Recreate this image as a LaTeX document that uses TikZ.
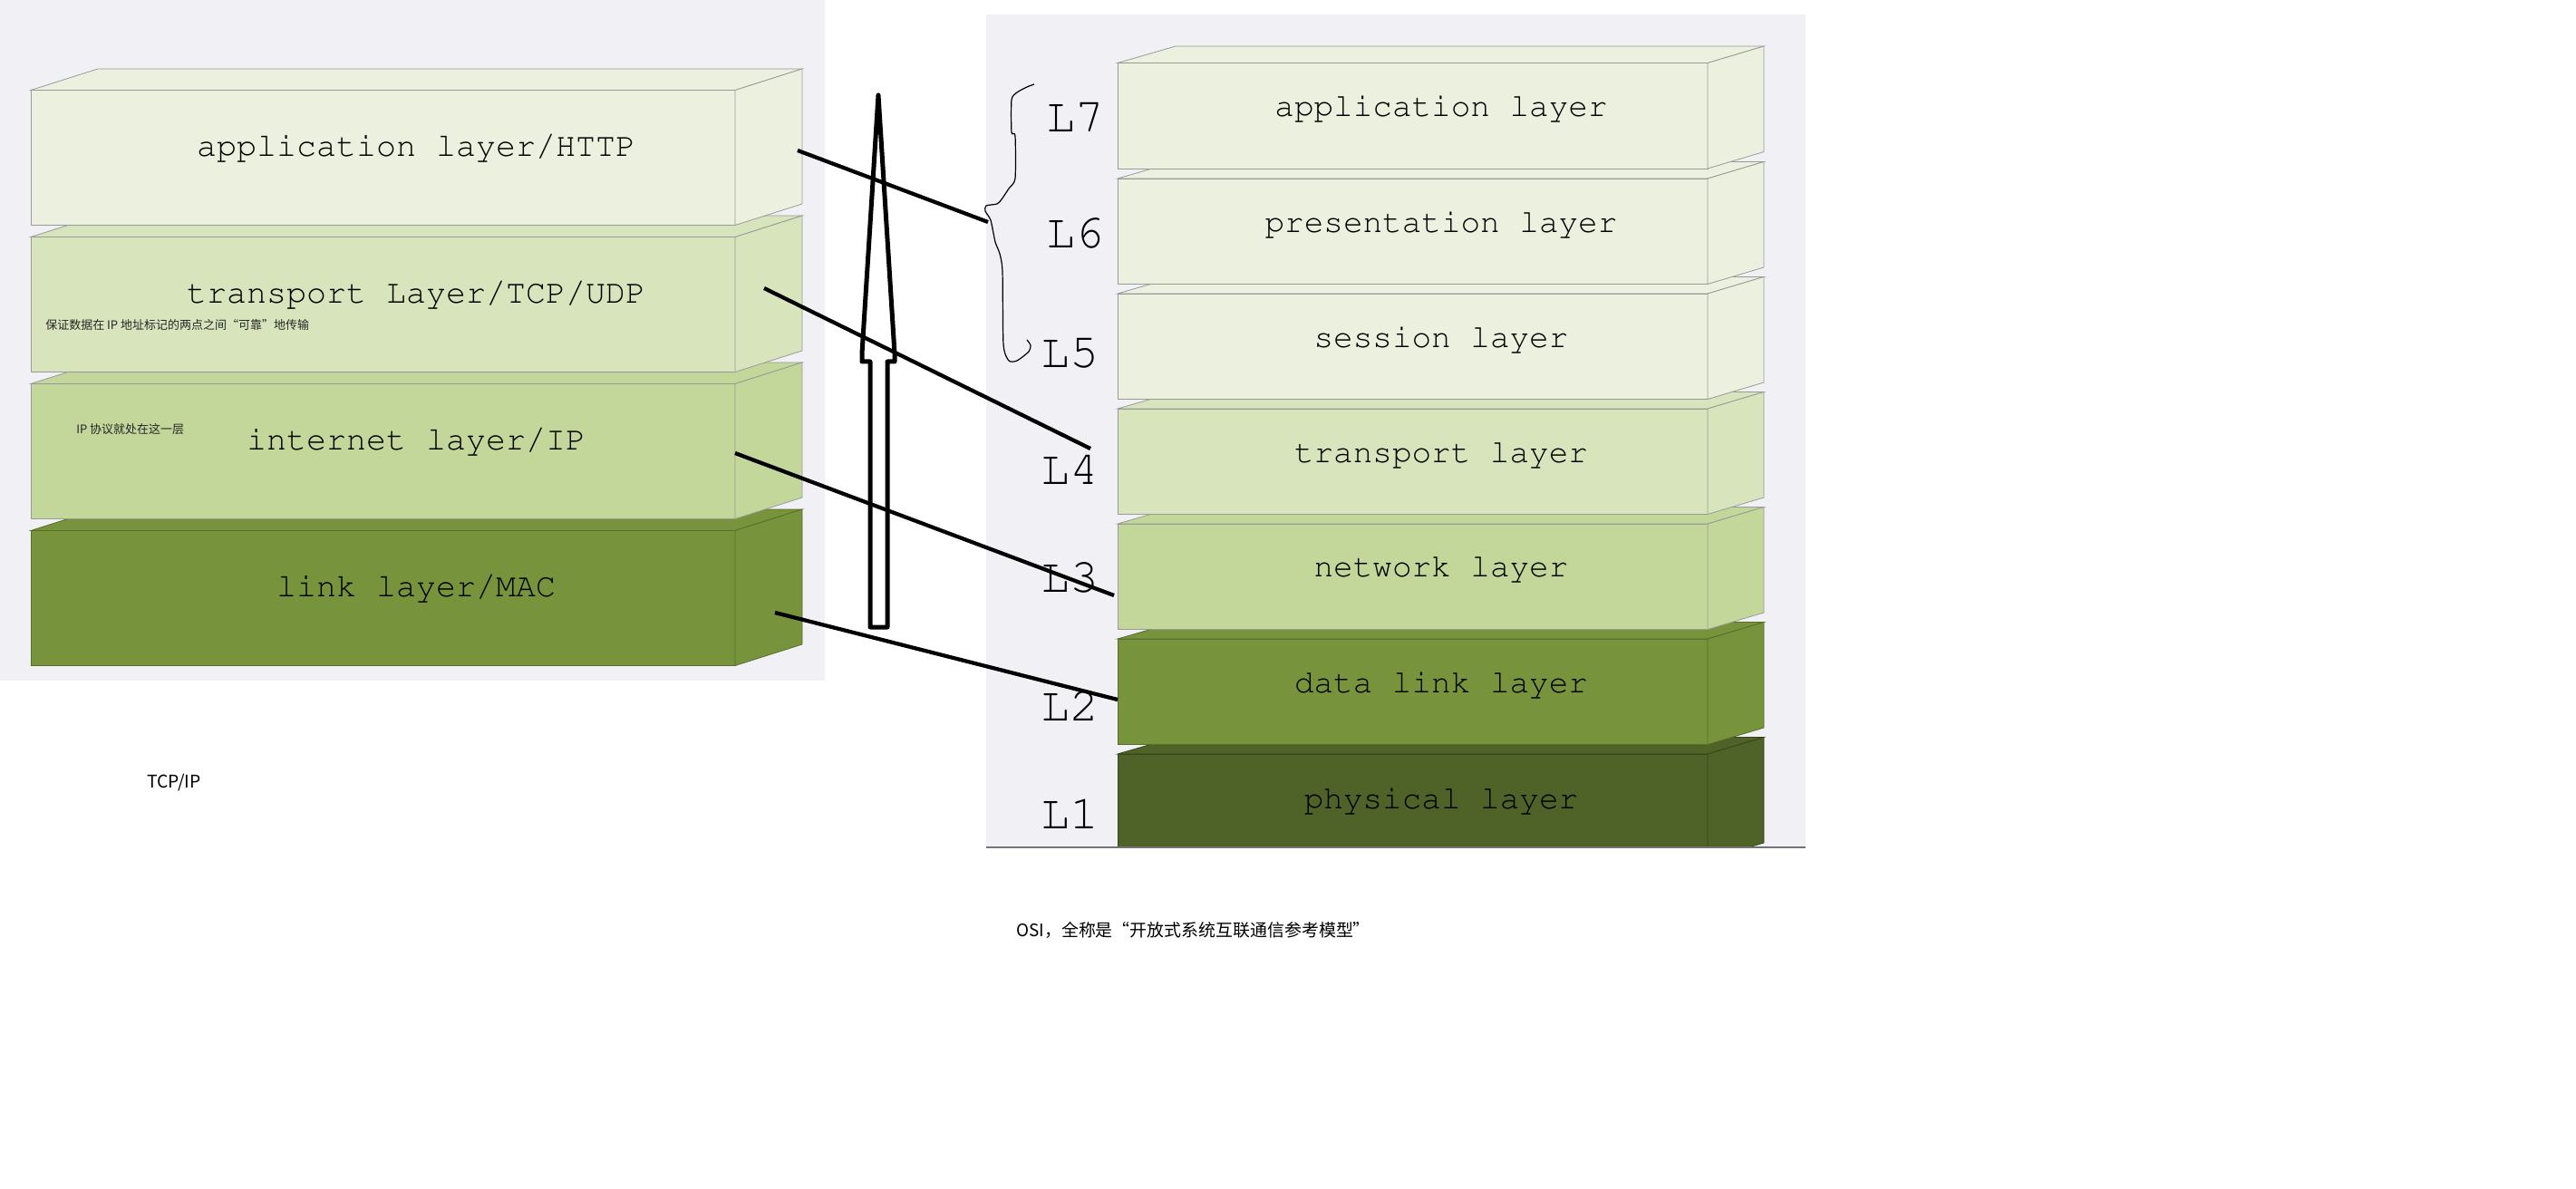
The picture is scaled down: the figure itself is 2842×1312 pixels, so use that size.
\documentclass[tikz,border=0pt]{standalone}
\usepackage[T1]{fontenc}
\usepackage{fontspec}
\newfontfamily\cjk{Noto Sans CJK SC}
\newcommand\courier{\fontencoding{T1}\fontfamily{pcr}\selectfont}
\definecolor{panelbg}{HTML}{F1F0F5}
\definecolor{layA}{HTML}{EBF1DE}
\definecolor{layB}{HTML}{D8E4BC}
\definecolor{layC}{HTML}{C4D79B}
\definecolor{layD}{HTML}{77933C}
\definecolor{layE}{HTML}{4F6228}

\begin{document}
\begin{tikzpicture}[x=0.75pt,y=0.75pt,yscale=-1,xscale=1,
  face/.style={line width=0.6pt},
  layertext/.style={font=\courier\fontsize{27.5}{30}\selectfont,inner sep=0.75pt},
  lvl/.style={font=\courier\fontsize{40}{44}\selectfont,inner sep=0.75pt},
  note/.style={font=\cjk\fontsize{9.75}{11}\selectfont,text=black!85,inner sep=0.75pt},
  tie/.style={line width=3.2pt}]
\useasboundingbox (0,0) rectangle (2842,1312);
\fill[white] (0,0) rectangle (2842,1312);

%Shape: Rectangle [panels]
\fill[panelbg] (0,0) rectangle (910,751);
\fill[panelbg] (1088,16) rectangle (1992,935);

%Shape: Boxes [TCP/IP stack, bottom first]
\foreach \t/\c/\e in {585.5/layD/layD!75!black,423.5/layC/black!40,261.5/layB/black!40,99.5/layA/black!40}{
  \filldraw[face,fill=\c,draw=\e] (34,\t) rectangle (811,\t+149);
  \filldraw[face,fill=\c,draw=\e] (34,\t) -- (108,\t-23.5) -- (885,\t-23.5) -- (811,\t) -- cycle;
  \filldraw[face,fill=\c,draw=\e] (811,\t) -- (885,\t-23.5) -- (885,\t+125.5) -- (811,\t+149) -- cycle;
}

%Shape: Boxes [OSI stack, bottom first]
\begin{scope}
\clip (1088,0) rectangle (1992,935);
\foreach \t/\c/\e in {832/layE/layE!70!black,705/layD/layD!75!black,578/layC/black!40,451/layB/black!40,324/layA/black!40,197/layA/black!40,69.5/layA/black!40}{
  \filldraw[face,fill=\c,draw=\e] (1233,\t) rectangle (1884,\t+116.5);
  \filldraw[face,fill=\c,draw=\e] (1233,\t) -- (1297,\t-18.5) -- (1946,\t-18.5) -- (1884,\t) -- cycle;
  \filldraw[face,fill=\c,draw=\e] (1884,\t) -- (1946,\t-18.5) -- (1946,\t+98) -- (1884,\t+116.5) -- cycle;
}
\end{scope}
%Straight Lines [panel base]
\draw[black!55,line width=2pt] (1088,935) -- (1992,935);

% Text Node
\node[layertext] (tapp) at (459,164) {application layer/HTTP};
% Text Node
\node[layertext] (ttrans) at (459,326) {transport Layer/TCP/UDP};
% Text Node
\node[layertext] (tnet) at (459,488) {internet layer/IP};
% Text Node
\node[layertext] (tlink) at (459,650) {link layer/MAC};

% Text Node
\node[layertext,font=\courier\fontsize{27}{30}\selectfont] (oapp) at (1590,120) {application layer};
\node[layertext,font=\courier\fontsize{27}{30}\selectfont] (opres) at (1590,248) {presentation layer};
\node[layertext,font=\courier\fontsize{27}{30}\selectfont] (oses) at (1590,375) {session layer};
\node[layertext,font=\courier\fontsize{27}{30}\selectfont] (otrans) at (1590,502) {transport layer};
\node[layertext,font=\courier\fontsize{27}{30}\selectfont] (onet) at (1590,628) {network layer};
\node[layertext,font=\courier\fontsize{27}{30}\selectfont] (odata) at (1590,756) {data link layer};
\node[layertext,font=\courier\fontsize{27}{30}\selectfont] (ophys) at (1590,884) {physical layer};

% Text Node [levels]
\foreach \n/\x/\y in {7/1186/130,6/1186/257,5/1180/390,4/1180/517,3/1180/637,2/1180/778,1/1180/897}
  \node[lvl] (L\n) at (\x,\y) {L\n};

% Text Node
\node[note,anchor=west] (nrel) at (49,359) {保证数据在 IP 地址标记的两点之间“可靠”地传输};
% Text Node
\node[note,anchor=west] (nip) at (83,474) {IP 协议就处在这一层};
% Text Node
\node[font=\cjk\fontsize{14.5}{16}\selectfont,inner sep=0.75pt] (ttcpip) at (192,864) {TCP/IP};
% Text Node
\node[font=\cjk\fontsize{14.2}{16}\selectfont,anchor=west,inner sep=0.75pt] (tosi) at (1120,1026) {OSI，全称是“开放式系统互联通信参考模型”};

%Shape: Arrow [up]
\draw[line width=3.75pt,line join=round] (969,105) -- (987,390) -- (987,399) -- (979,399) -- (979,692) -- (960,692) -- (960,399) -- (951,399) -- (951,390) -- cycle;

%Straight Lines [layer mapping]
\coordinate (sA) at (880,166);  \coordinate (eA) at (1090,245);
\coordinate (sB) at (843,318);  \coordinate (eB) at (1203,495);
\coordinate (sC) at (811,500);  \coordinate (eC) at (1229,657);
\coordinate (sD) at (855,676);  \coordinate (eD) at (1233,772);
\draw[tie] (sA) -- (eA);
\draw[tie] (sB) -- (eB);
\draw[tie] (sC) -- (eC);
\draw[tie] (sD) -- (eD);

%Curve Lines [brace over L7..L5]
\draw[line width=0.9pt] plot[smooth,tension=0.4] coordinates {(1141,93) (1133,96) (1122,102) (1116,110) (1116,146) (1120,150) (1120,197) (1113,208) (1105,220) (1100,225) (1088,227) (1087,233) (1093,243) (1098,267) (1103,280) (1106,300) (1107,380) (1113,398) (1122,398) (1135,388) (1137,381) (1133,375)};

\end{tikzpicture}
\end{document}
